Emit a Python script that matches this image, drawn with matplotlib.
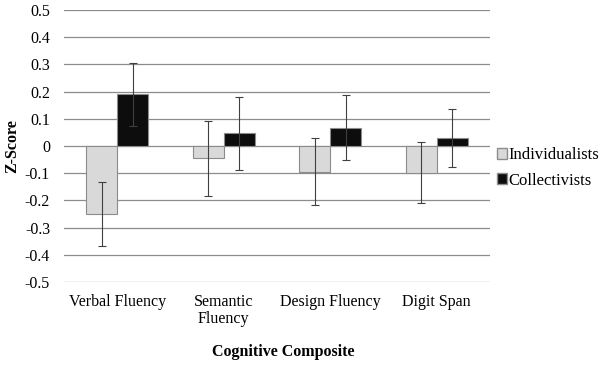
import matplotlib
matplotlib.use("Agg")
import matplotlib.pyplot as plt
import numpy as np
from matplotlib.patches import Patch

plt.rcParams['font.family'] = ['Liberation Serif', 'DejaVu Serif']

categories = ["Verbal Fluency", "Semantic\nFluency", "Design Fluency", "Digit Span"]
individualists = [-0.25, -0.045, -0.094, -0.098]
collectivists = [0.19, 0.046, 0.068, 0.029]
ind_err = [0.117, 0.137, 0.122, 0.113]
col_err = [0.115, 0.134, 0.118, 0.107]
yticks = [0.5, 0.4, 0.3, 0.2, 0.1, 0, -0.1, -0.2, -0.3, -0.4, -0.5]
ytick_labels = ["0.5", "0.4", "0.3", "0.2", "0.1", "0", "-0.1", "-0.2", "-0.3", "-0.4", "-0.5"]

fig = plt.figure(figsize=(6.0, 3.65), dpi=100)
ax = fig.add_axes([64/600, 1-282/365, (490-64)/600, (282-10)/365])

x = np.arange(len(categories))
w = 0.29
ax.bar(x - w/2, individualists, w, color="#d9d9d9", edgecolor="#8c8c8c", linewidth=0.8, zorder=3)
ax.bar(x + w/2, collectivists, w, color="#0d0d0d", edgecolor="#8c8c8c", linewidth=0.8, zorder=3)
ax.errorbar(x - w/2, individualists, yerr=ind_err, fmt="none", ecolor="#404040",
            elinewidth=0.8, capsize=3, capthick=0.8, zorder=4)
ax.errorbar(x + w/2, collectivists, yerr=col_err, fmt="none", ecolor="#404040",
            elinewidth=0.8, capsize=3, capthick=0.8, zorder=4)

ax.set_xlim(-0.5, len(categories) - 0.5)
ax.set_ylim(-0.5, 0.5)
ax.set_yticks(yticks)
ax.set_yticklabels(ytick_labels, fontsize=11.5)
ax.set_xticks(x)
ax.set_xticklabels(categories, fontsize=11.5, linespacing=1.05)
ax.tick_params(axis='y', length=0, pad=10)
ax.tick_params(axis='x', length=0, pad=9)
ax.grid(axis='y', color="#8c8c8c", linewidth=0.9, zorder=0)
for s in ax.spines.values():
    s.set_visible(False)

fig.text(12/600, 1-146/365, "Z-Score", fontsize=11.5, fontweight='bold',
         ha='center', va='center', rotation=90)
fig.text(283/600, 1-352/365, "Cognitive Composite", fontsize=11.5, fontweight='bold',
         ha='center', va='center')

handles = [Patch(facecolor="#d9d9d9", edgecolor="#8c8c8c", label="Individualists"),
           Patch(facecolor="#0d0d0d", edgecolor="#8c8c8c", label="Collectivists")]
fig.legend(handles=handles, loc='center left', bbox_to_anchor=(497/600, 1-168/365),
           frameon=False, fontsize=12, handlelength=0.6, handleheight=0.6,
           handletextpad=0.1, labelspacing=0.55, borderaxespad=0, borderpad=0)

fig.savefig("out.png", dpi=100)
